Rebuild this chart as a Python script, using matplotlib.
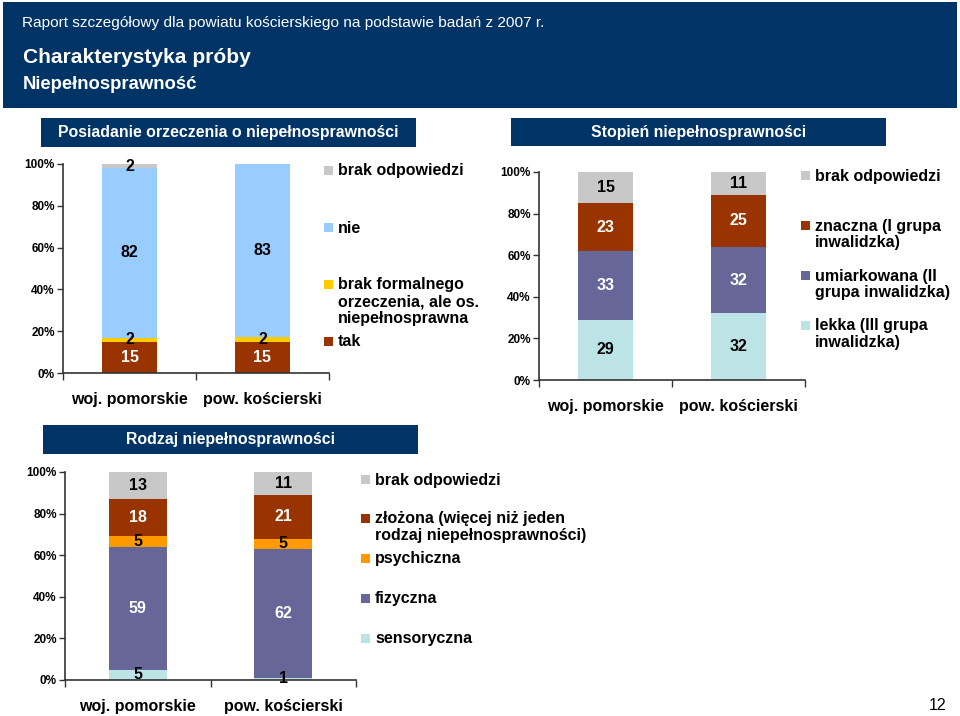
import numpy as np
import matplotlib
matplotlib.use("Agg")
import matplotlib.pyplot as plt
from matplotlib.patches import Rectangle

plt.rcParams['font.family'] = ['Liberation Sans', 'DejaVu Sans']

W, H = 960, 716

# data
categories = ['woj. pomorskie', 'pow. kościerski']

# Posiadanie orzeczenia o niepełnosprawności
orz_tak = [15, 15]
orz_brak_formalnego = [2, 2]
orz_nie = [82, 83]
orz_brak_odp = [2, 0]

# Stopień niepełnosprawności
st_lekka = [29, 32]
st_umiarkowana = [33, 32]
st_znaczna = [23, 25]
st_brak_odp = [15, 11]

# Rodzaj niepełnosprawności
rodz_sensoryczna = [5, 1]
rodz_fizyczna = [59, 62]
rodz_psychiczna = [5, 5]
rodz_zlozona = [18, 21]
rodz_brak_odp = [13, 11]

GRAY = '#C8C8C8'
LBLUE = '#99CCFF'
YELLOW = '#FFCC00'
BROWN = '#993300'
PURPLE = '#666699'
CYAN = '#BCE3E6'
ORANGE = '#FF9900'
NAVY = '#003366'


def fx(x):
    return x / W


def fy(y):
    return 1 - y / H


def add_axes(fig, left, top, right, bottom):
    return fig.add_axes([fx(left), fy(bottom), (right - left) / W, (bottom - top) / H])


def stacked(ax, series, colors, txt_colors, width=0.41):
    data = np.array(series, dtype=float)
    pct = data / data.sum(axis=0) * 100
    x = np.arange(len(categories))
    bottom = np.zeros(len(categories))
    for vals, p, c, tc in zip(data, pct, colors, txt_colors):
        ax.bar(x, p, width, bottom=bottom, color=c, edgecolor='none')
        for i in range(len(x)):
            if vals[i] > 0:
                ax.text(x[i], bottom[i] + p[i] / 2, f'{vals[i]:.0f}', ha='center', va='center',
                        color=tc, fontsize=11.5, fontweight='bold')
        bottom += p

    ax.set_xlim(-0.5, len(categories) - 0.5)
    ax.set_ylim(0, 100)
    ax.set_yticks(range(0, 101, 20))
    ax.set_yticklabels([f'{v}%' for v in range(0, 101, 20)], fontsize=8.5, fontweight='bold')
    ax.set_xticks(x)
    ax.set_xticklabels(categories, fontsize=11.5, fontweight='bold')
    ax.set_xticks(np.arange(-0.5, len(categories)), minor=True)
    ax.tick_params(axis='x', which='major', length=0, pad=14)
    ax.tick_params(axis='x', which='minor', length=5, width=1, color='#333333')
    ax.tick_params(axis='y', length=4, width=1, color='#333333', pad=2)
    for s in ['top', 'right']:
        ax.spines[s].set_visible(False)
    for s in ['left', 'bottom']:
        ax.spines[s].set_color('#333333')
        ax.spines[s].set_linewidth(1.2)
    ax.set_facecolor('none')


def legend(fig, x_sq, entries):
    # entries: (label, colour, y of first text line centre in pixels)
    for label, color, y in entries:
        fig.add_artist(Rectangle((fx(x_sq), fy(y + 3)), 9 / W, 9 / H, transform=fig.transFigure,
                                 facecolor=color, edgecolor='none'))
        fig.text(fx(x_sq + 14), fy(y - 8.5), label, ha='left', va='top',
                 fontsize=11.5, fontweight='bold', linespacing=1.14)


def title_box(fig, left, top, right, bottom, text):
    fig.add_artist(Rectangle((fx(left), fy(bottom)), (right - left) / W, (bottom - top) / H,
                             transform=fig.transFigure, facecolor=NAVY, edgecolor='none'))
    fig.text(fx((left + right) / 2), fy((top + bottom) / 2), text, ha='center', va='center',
             color='white', fontsize=11.4, fontweight='bold')


fig = plt.figure(figsize=(W / 100, H / 100), dpi=100)

# header band
fig.add_artist(Rectangle((fx(3), fy(108)), 954 / W, 106 / H, transform=fig.transFigure,
                         facecolor=NAVY, edgecolor='none'))
fig.text(fx(22), fy(27), 'Raport szczegółowy dla powiatu kościerskiego na podstawie badań z 2007 r.',
         color='white', fontsize=11.1, va='baseline')
fig.text(fx(23), fy(63), 'Charakterystyka próby', color='white', fontsize=15.1,
         fontweight='bold', va='baseline')
fig.text(fx(23), fy(89), 'Niepełnosprawność', color='white', fontsize=13.3,
         fontweight='bold', va='baseline')

title_box(fig, 41, 118, 416, 147, 'Posiadanie orzeczenia o niepełnosprawności')
title_box(fig, 511, 118, 886, 146, 'Stopień niepełnosprawności')
title_box(fig, 43, 425, 418, 454, 'Rodzaj niepełnosprawności')

# chart 1
ax1 = add_axes(fig, 63, 164, 329, 373)
stacked(ax1, [orz_tak, orz_brak_formalnego, orz_nie, orz_brak_odp],
        [BROWN, YELLOW, LBLUE, GRAY], ['white', 'black', 'black', 'black'])
legend(fig, 324, [('brak odpowiedzi', GRAY, 172),
                  ('nie', LBLUE, 229),
                  ('brak formalnego\norzeczenia, ale os.\nniepełnosprawna', YELLOW, 286),
                  ('tak', BROWN, 343)])

# chart 2
ax2 = add_axes(fig, 539, 172, 805, 380)
stacked(ax2, [st_lekka, st_umiarkowana, st_znaczna, st_brak_odp],
        [CYAN, PURPLE, BROWN, GRAY], ['black', 'white', 'white', 'black'])
legend(fig, 801, [('brak odpowiedzi', GRAY, 177),
                  ('znaczna (I grupa\ninwalidzka)', BROWN, 227),
                  ('umiarkowana (II\ngrupa inwalidzka)', PURPLE, 277),
                  ('lekka (III grupa\ninwalidzka)', CYAN, 327)])

# chart 3
ax3 = add_axes(fig, 65, 472, 356, 680)
stacked(ax3, [rodz_sensoryczna, rodz_fizyczna, rodz_psychiczna, rodz_zlozona, rodz_brak_odp],
        [CYAN, PURPLE, ORANGE, BROWN, GRAY], ['black', 'white', 'black', 'white', 'black'], width=0.40)
legend(fig, 361, [('brak odpowiedzi', GRAY, 481),
                  ('złożona (więcej niż jeden\nrodzaj niepełnosprawności)', BROWN, 520),
                  ('psychiczna', ORANGE, 560),
                  ('fizyczna', PURPLE, 600),
                  ('sensoryczna', CYAN, 640)])

fig.text(fx(938), fy(705), '12', ha='center', va='center', fontsize=11.5)

fig.savefig('out.png', dpi=100)
